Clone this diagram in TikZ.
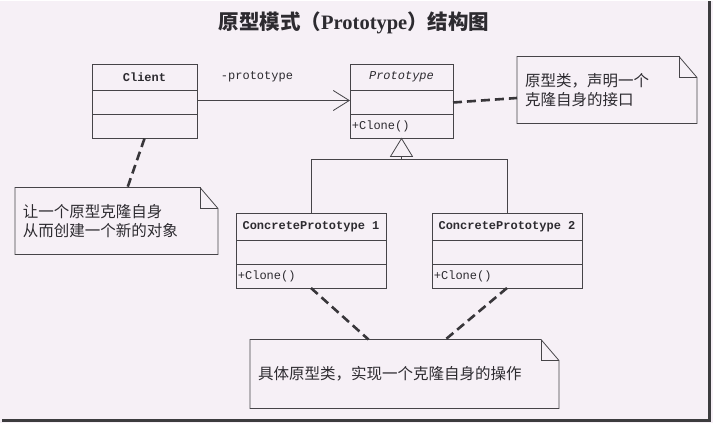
\documentclass[tikz,border=0pt]{standalone}
\usepackage{fontspec}
\setmainfont{Liberation Serif}
\setmonofont{Liberation Mono}
\newfontfamily\cjk{Noto Sans CJK SC}
\usepackage{xcolor}
\usetikzlibrary{arrows.meta,positioning,calc}

\definecolor{paper}{RGB}{246,240,246}
\definecolor{ink}{RGB}{70,68,72}
\definecolor{txt}{RGB}{45,43,48}
\definecolor{frame}{RGB}{60,60,62}

\begin{document}
\begin{tikzpicture}[x=1pt, y=-1pt, line width=0.8pt, color=txt, draw=ink]
    \tikzset{head/.style={draw, anchor=north west, minimum width=#1, minimum height=26.5pt,
               inner sep=0pt, outer sep=0pt, font=\ttfamily\bfseries\fontsize{12}{14}\selectfont},
             part/.style={draw, anchor=north, minimum width=#1, minimum height=24pt,
               inner sep=0pt, outer sep=0pt},
             op/.style={anchor=west, inner sep=1.5pt, font=\ttfamily\fontsize{12}{14}\selectfont},
             note/.style={anchor=north west, minimum width=#1, text width=#1-16pt, align=left,
               inner xsep=8pt, inner ysep=0pt, outer sep=0pt,
               font=\cjk\fontsize{15.5}{19.5}\selectfont},
             dep/.style={draw=ink!80!black, line width=2.6pt, dash pattern=on 9pt off 5pt}}
    % paper and scan edge
    \fill[paper] (0,0) rectangle (713,421);
    \draw[frame, line width=3pt] (2,419) -- (709.5,419) -- (709.5,0);
    \useasboundingbox (0,0) rectangle (713,421);

    \node (title) at (354,21) {\cjk\bfseries\fontsize{20.5}{23}\selectfont
      原型模式（{\rmfamily\bfseries Prototype}）结构图};

    % classes
    \node[head=105pt] (cli) at (92,62.5) {Client};
    \node[part=105pt, below=0pt of cli] (cliM) {};
    \node[part=105pt, below=0pt of cliM] (cliB) {};

    \node[head=103pt, font=\ttfamily\itshape\fontsize{12}{14}\selectfont] (proto) at (350,62.5) {Prototype};
    \node[part=103pt, below=0pt of proto] (protoM) {};
    \node[part=103pt, below=0pt of protoM] (protoB) {};
    \node[op] at (protoB.west) {+Clone()};

    \node[head=150pt] (cp1) at (236,212) {ConcretePrototype 1};
    \node[part=150pt, below=0pt of cp1] (cp1M) {};
    \node[part=150pt, below=0pt of cp1M] (cp1B) {};
    \node[op] at (cp1B.west) {+Clone()};

    \node[head=150pt] (cp2) at (432,212) {ConcretePrototype 2};
    \node[part=150pt, below=0pt of cp2] (cp2M) {};
    \node[part=150pt, below=0pt of cp2M] (cp2B) {};
    \node[op] at (cp2B.west) {+Clone()};

    % notes
    \node[note=180pt, minimum height=67pt] (n1) at (517,55) {原型类，声明一个\\克隆自身的接口};
    \node[note=203pt, minimum height=67pt] (n2) at (15,186) {让一个原型克隆自身\\从而创建一个新的对象};
    \node[note=309pt, minimum height=69pt] (n3) at (250,338) {具体原型类，实现一个克隆自身的操作};
    \foreach \n in {n1,n2,n3} {
      \draw (\n.north west) -- ([xshift=-18pt]\n.north east) -- ([yshift=-21pt]\n.north east)
            -- (\n.south east) -- (\n.south west) -- cycle;
      \draw ([xshift=-18pt]\n.north east) |- ([yshift=-21pt]\n.north east);
    }

    % association
    \draw[-{Straight Barb[length=16pt, width=20pt]}] ([yshift=2pt]cliM.east) -- ([yshift=2pt]protoM.west);
    \node[font=\ttfamily\fontsize{12}{14}\selectfont] (role) at (257,75) {-prototype};

    % generalization
    \coordinate (tri) at ([yshift=-18pt]protoB.south);
    \draw (protoB.south) -- ([xshift=-11pt]tri) -- ([xshift=11pt]tri) -- cycle;
    \draw (tri) -- ++(0,3) -| (cp1.north);
    \draw (tri) ++(0,3) -| (cp2.north);

    % note links
    \draw[dep] (protoM.east) -- ([yshift=-8pt]n1.west);
    \draw[dep] (cliB.south) -- ([xshift=11pt]n2.north);
    \draw[dep] (cp1B.south) -- ([xshift=-36pt]n3.north);
    \draw[dep] (cp2B.south) -- ([xshift=41pt]n3.north);
  \end{tikzpicture}
\end{document}
